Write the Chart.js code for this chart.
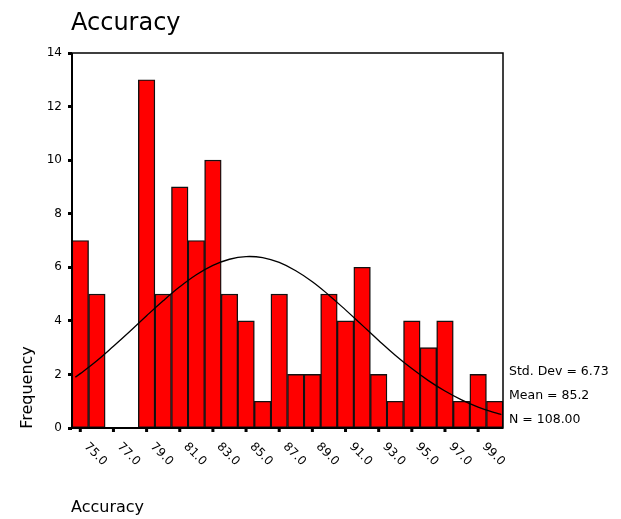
<!DOCTYPE html>
<html>
<head>
<meta charset="utf-8">
<script src="https://cdn.jsdelivr.net/npm/chart.js@4"></script>
<style>
  html, body { margin: 0; padding: 0; background: #fff; }
  #c { display: block; }
</style>
</head>
<body>
<canvas id="c" width="621" height="519"></canvas>
<script>
// ---- data ----
const chartTitle = 'Accuracy';
const xAxisTitle = 'Accuracy';
const yAxisTitle = 'Frequency';
const binCenters = [75,76,77,78,79,80,81,82,83,84,85,86,87,88,89,90,91,92,93,94,95,96,97,98,99,100];
const frequencies = [7,5,0,0,13,5,9,7,10,5,4,1,5,2,2,5,4,6,2,1,4,3,4,1,2,1];
const xTickValues = [75,77,79,81,83,85,87,89,91,93,95,97,99];
const xTickLabels = ['75.0','77.0','79.0','81.0','83.0','85.0','87.0','89.0','91.0','93.0','95.0','97.0','99.0'];
const curveX = [74.7,75,76,77,78,79,80,81,82,83,84,85,86,87,88,89,90,91,92,93,94,95,96,97,98,99,100,100.4];
const curveY = [1.90,2.03,2.51,3.05,3.61,4.19,4.75,5.27,5.72,6.07,6.30,6.40,6.36,6.18,5.87,5.46,4.96,4.41,3.84,3.27,2.72,2.22,1.77,1.38,1.05,0.78,0.57,0.50];
const statLines = ['Std. Dev = 6.73', 'Mean = 85.2', 'N = 108.00'];
const yMin = 0, yMax = 14, yStep = 2;
const binMin = 74.5, binMax = 100.5;

const FONT = '"DejaVu Sans", Verdana, sans-serif';

const decor = {
  id: 'decor',
  afterDatasetsDraw(chart) {
    const ctx = chart.ctx;
    const a = chart.chartArea;
    const x2 = chart.scales.x2;
    ctx.save();
    // frame
    ctx.strokeStyle = '#000';
    ctx.lineWidth = 1.5;
    ctx.strokeRect(a.left, a.top, a.right - a.left, a.bottom - a.top);
    ctx.lineWidth = 2;
    ctx.beginPath();
    ctx.moveTo(a.left, a.top); ctx.lineTo(a.left, a.bottom); ctx.lineTo(a.right, a.bottom);
    ctx.stroke();
    // x tick marks + rotated labels
    ctx.fillStyle = '#000';
    ctx.font = '12px ' + FONT;
    xTickValues.forEach((v, i) => {
      const px = x2.getPixelForValue(v);
      ctx.fillRect(px - 1.5, a.bottom + 1, 3, 3);
      ctx.save();
      ctx.translate(px + 3.5, a.bottom + 19);
      ctx.rotate(Math.PI / 4);
      ctx.textAlign = 'left';
      ctx.textBaseline = 'alphabetic';
      ctx.fillText(xTickLabels[i], 0, 0);
      ctx.restore();
    });
    // title
    ctx.textAlign = 'left';
    ctx.textBaseline = 'alphabetic';
    ctx.font = '24px ' + FONT;
    ctx.fillText(chartTitle, 71, 29.5);
    // x axis title
    ctx.font = '16px ' + FONT;
    ctx.fillText(xAxisTitle, 71, 512);
    // y axis title
    ctx.save();
    ctx.translate(31.5, 387.5);
    ctx.rotate(-Math.PI / 2);
    ctx.textAlign = 'center';
    ctx.fillText(yAxisTitle, 0, 0);
    ctx.restore();
    // stats
    ctx.font = '12.5px ' + FONT;
    statLines.forEach((s, i) => ctx.fillText(s, a.right + 6, 375 + i * 24));
    ctx.restore();
  }
};

new Chart(document.getElementById('c'), {
  type: 'bar',
  data: {
    labels: binCenters.map(String),
    datasets: [
      {
        type: 'line',
        data: curveX.map((x, i) => ({ x: x, y: curveY[i] })),
        xAxisID: 'x2',
        yAxisID: 'y',
        borderColor: '#000',
        borderWidth: 1.3,
        pointRadius: 0,
        tension: 0.4,
        fill: false,
        order: 0
      },
      {
        type: 'bar',
        data: frequencies,
        xAxisID: 'x',
        yAxisID: 'y',
        backgroundColor: '#ff0000',
        borderColor: '#111',
        borderWidth: 1.4,
        borderSkipped: false,
        barPercentage: 1,
        categoryPercentage: 1,
        grouped: false,
        order: 1
      }
    ]
  },
  options: {
    responsive: false,
    animation: false,
    devicePixelRatio: 1,
    layout: { padding: { left: 0, top: 53, right: 118, bottom: 91 } },
    plugins: { legend: { display: false }, tooltip: { enabled: false }, title: { display: false } },
    scales: {
      x: { type: 'category', display: false, offset: true },
      x2: { type: 'linear', display: false, min: binMin, max: binMax, offset: false },
      y: {
        min: yMin, max: yMax,
        afterFit(s) { s.width = 72; },
        border: { display: false },
        grid: { drawOnChartArea: false, drawTicks: true, tickLength: 4, tickWidth: 3, tickColor: '#000' },
        ticks: { stepSize: yStep, color: '#000', padding: 6, font: { family: FONT, size: 12 } }
      }
    }
  },
  plugins: [decor]
});
</script>
</body>
</html>
